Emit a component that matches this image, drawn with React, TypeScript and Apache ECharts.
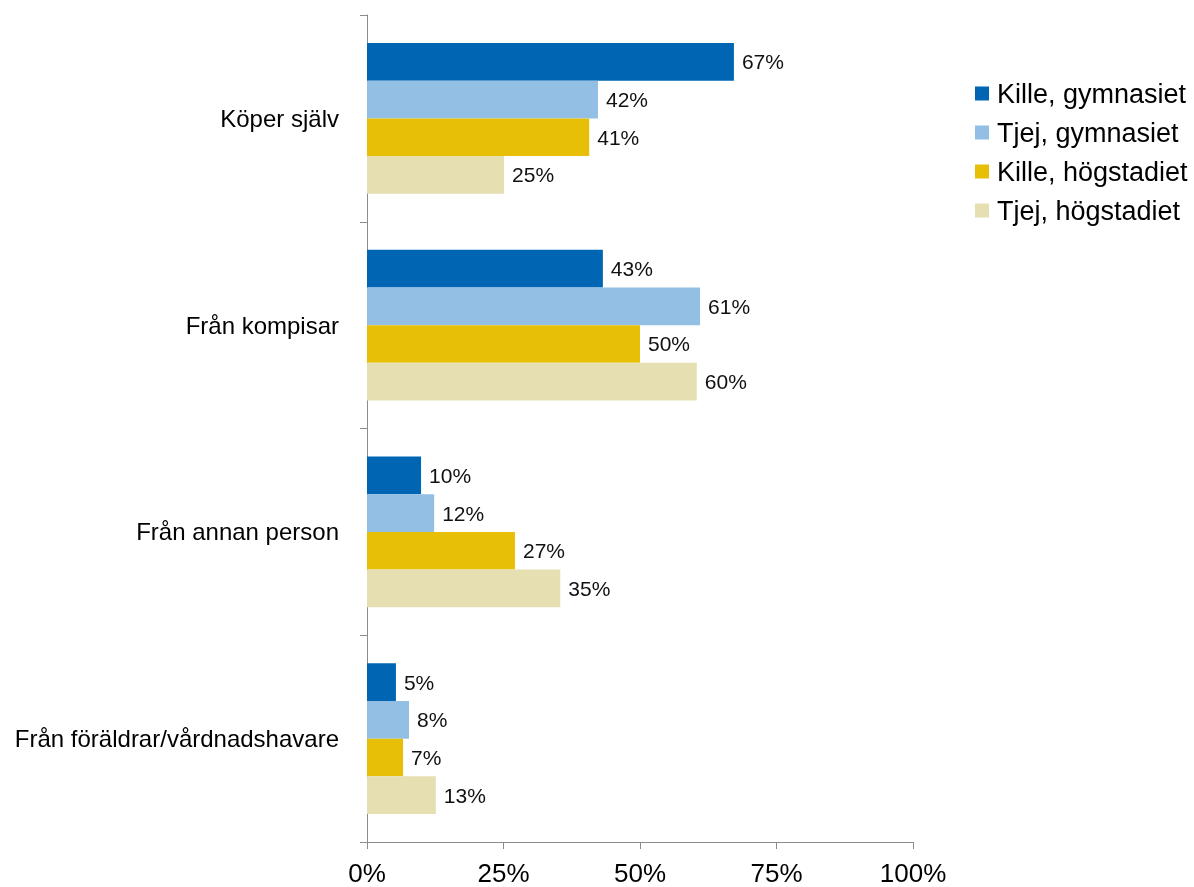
import React, { useEffect, useRef } from "react";
import * as echarts from "echarts";

const categories = [
  "Köper själv",
  "Från kompisar",
  "Från annan person",
  "Från föräldrar/vårdnadshavare",
];
const seriesNames = [
  "Kille, gymnasiet",
  "Tjej, gymnasiet",
  "Kille, högstadiet",
  "Tjej, högstadiet",
];
const killeGymnasiet = [67.2, 43.2, 9.9, 5.3];
const tjejGymnasiet = [42.3, 61.0, 12.3, 7.7];
const killeHogstadiet = [40.7, 50.0, 27.1, 6.6];
const tjejHogstadiet = [25.1, 60.4, 35.4, 12.6];
const seriesColors = ["#0066B3", "#92BFE3", "#E6BF06", "#E5DFB1"];
const xTicks = [0, 25, 50, 75, 100];

const allValues = [killeGymnasiet, tjejGymnasiet, killeHogstadiet, tjejHogstadiet];

export default function App() {
  const ref = useRef<HTMLDivElement>(null);
  useEffect(() => {
    if (!ref.current) return;
    const chart = echarts.init(ref.current, null, { renderer: "svg" });
    const font = "Liberation Sans, Arial, sans-serif";
    chart.setOption({
      animation: false,
      textStyle: { fontFamily: font },
      grid: { left: 367, right: 281, top: 15, bottom: 45, containLabel: false },
      legend: {
        orient: "vertical",
        left: 970,
        top: 75,
        icon: "rect",
        itemWidth: 14,
        itemHeight: 14,
        itemGap: 12,
        data: seriesNames,
        textStyle: {
          fontSize: 27,
          color: "#000",
          lineHeight: 24,
          fontFamily: font,
          padding: [0, 0, 0, 3],
        },
      },
      xAxis: {
        type: "value",
        min: xTicks[0],
        max: xTicks[xTicks.length - 1],
        interval: 25,
        splitLine: { show: false },
        axisLine: { show: true, lineStyle: { color: "#8c8c8c", width: 1 } },
        axisTick: { show: true, length: 7, lineStyle: { color: "#8c8c8c" } },
        axisLabel: {
          formatter: (v: number) => v + "%",
          fontSize: 26,
          color: "#000",
          margin: 18,
          fontFamily: font,
        },
      },
      yAxis: {
        type: "category",
        data: categories,
        inverse: true,
        axisLine: { show: true, lineStyle: { color: "#8c8c8c", width: 1 } },
        axisTick: { show: true, length: 7, lineStyle: { color: "#8c8c8c" } },
        axisLabel: { fontSize: 24, color: "#000", margin: 28, fontFamily: font },
      },
      series: seriesNames.map((name, i) => ({
        name,
        type: "bar",
        data: allValues[i],
        barGap: "0%",
        barCategoryGap: "27%",
        itemStyle: { color: seriesColors[i] },
        label: {
          show: true,
          position: "right",
          distance: 8,
          formatter: (p: any) => Math.round(p.value) + "%",
          fontSize: 21,
          color: "#111",
          fontFamily: font,
        },
      })),
    });
    return () => chart.dispose();
  }, []);
  return (
    <div
      ref={ref}
      style={{ position: "fixed", left: 0, top: 0, width: 1194, height: 887 }}
    />
  );
}
